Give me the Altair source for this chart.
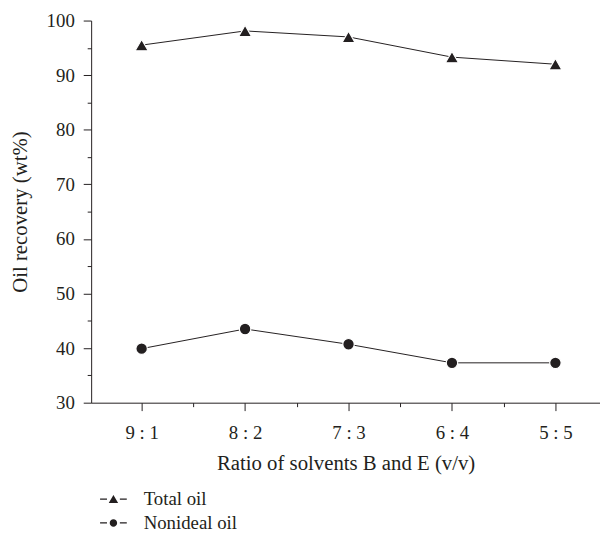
import altair as alt
import pandas as pd

categories = ["9 : 1", "8 : 2", "7 : 3", "6 : 4", "5 : 5"]
total_oil = [95.5, 98.1, 97.0, 93.3, 92.0]
nonideal_oil = [39.9, 43.5, 40.7, 37.3, 37.3]
series_names = ["Total oil", "Nonideal oil"]
y_ticks = [30, 35, 40, 45, 50, 55, 60, 65, 70, 75, 80, 85, 90, 95, 100]
x_ticks = [0, 0.5, 1, 1.5, 2, 2.5, 3, 3.5, 4]

rows = []
for name, vals in zip(series_names, [total_oil, nonideal_oil]):
    for i, (c, v) in enumerate(zip(categories, vals)):
        rows.append({"idx": i, "ratio": c, "value": v, "series": name})
df = pd.DataFrame(rows)

INK = "#231f20"
FONT = "Liberation Serif"

label_array = "[" + ",".join("'" + c + "'" for c in categories) + "]"

x_enc = alt.X(
    "idx:Q",
    scale=alt.Scale(domain=[-0.488, 4.431], nice=False, zero=False),
    axis=alt.Axis(
        title="Ratio of solvents B and E (v/v)",
        values=x_ticks,
        labelExpr=f"datum.value % 1 ? '' : {label_array}[datum.value]",
        tickSize={"expr": "datum.value % 1 ? 4 : 8"},
        labelPadding=13,
        titlePadding=11,
    ),
)
y_enc = alt.Y(
    "value:Q",
    scale=alt.Scale(domain=[30, 100], nice=False, zero=False),
    axis=alt.Axis(
        title="Oil recovery (wt%)",
        values=y_ticks,
        labelExpr="datum.value % 10 ? '' : datum.label",
        tickSize={"expr": "datum.value % 10 ? 4 : 8"},
        labelPadding=9,
        titlePadding=16,
    ),
)

base = alt.Chart(df)

lines = base.mark_line(color=INK, strokeWidth=1).encode(x=x_enc, y=y_enc, detail="series:N")

pts_total = base.transform_filter(alt.datum.series == series_names[0]).mark_point(
    shape="triangle-up", filled=True, fill=INK, stroke="white", strokeWidth=1.2, size=175, opacity=1
).encode(x=x_enc, y=y_enc)

pts_non = base.transform_filter(alt.datum.series == series_names[1]).mark_point(
    shape="circle", filled=True, fill=INK, stroke="white", strokeWidth=1.2, size=135, opacity=1
).encode(x=x_enc, y=y_enc)

dash = "M-2.7,-0.13H-1.3V0.13H-2.7ZM1.3,-0.13H2.7V0.13H1.3Z"
tri_path = dash + "M0,-0.85L0.95,0.75L-0.95,0.75Z"
circ_path = dash + "M0.75,0A0.75,0.75,0,1,1,-0.75,0A0.75,0.75,0,1,1,0.75,0Z"

legend_layer = base.mark_point(filled=True, color=INK, opacity=0).encode(
    x=x_enc,
    y=y_enc,
    shape=alt.Shape(
        "series:N",
        scale=alt.Scale(domain=series_names, range=[tri_path, circ_path]),
        legend=alt.Legend(
            title=None,
            orient="none",
            legendX=13,
            legendY=474,
            direction="vertical",
            symbolSize=100,
            symbolOpacity=1,
            symbolFillColor=INK,
            symbolStrokeWidth=0,
            labelOffset=21,
            rowPadding=4,
            labelFont=FONT,
            labelFontSize=19,
            labelColor=INK,
        ),
    ),
)

chart = (
    alt.layer(lines, pts_total, pts_non, legend_layer)
    .properties(
        width=514,
        height=386,
        autosize=alt.AutoSizeParams(type="none"),
        padding={"left": 84, "top": 10, "right": 0, "bottom": 133},
    )
    .configure_view(stroke=None)
    .configure_axis(
        grid=False,
        domainColor=INK,
        domainWidth=1,
        tickColor=INK,
        tickWidth=1,
        labelFont=FONT,
        titleFont=FONT,
        labelFontSize=19,
        titleFontSize=21,
        titleFontWeight="normal",
        labelColor=INK,
        titleColor=INK,
    )
)

chart.save("out.html", embed_options={"renderer": "svg", "actions": False})
